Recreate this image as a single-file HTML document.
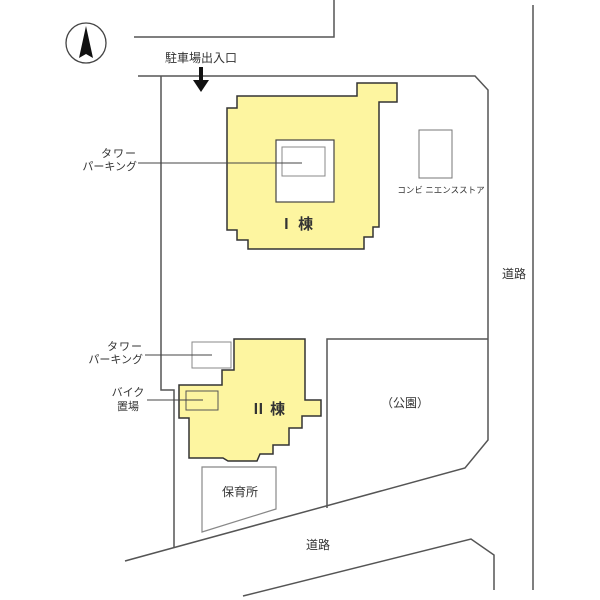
<!DOCTYPE html>
<html><head><meta charset="utf-8"><style>
html,body{margin:0;padding:0;background:#fff;width:600px;height:600px;overflow:hidden}
svg{display:block}
text{font-family:"Liberation Sans","Noto Sans CJK JP",sans-serif;fill:#333}
</style></head><body>
<svg width="600" height="600" viewBox="0 0 600 600">
<g fill="none" stroke="#555" stroke-width="1.5">
<!-- top road -->
<polyline points="134,37 334,37 334,0"/>
<!-- right far road -->
<line x1="533" y1="5" x2="533" y2="590"/>
<!-- site boundary -->
<polyline points="138,76 475,76 488,90 488,440 465,468 125,561"/>
<polyline points="161,76 161,390 174,390 174,547"/>
<!-- lower road -->
<polyline points="243,596 471,539 494,555 494,590"/>
<!-- park -->
<polyline points="327,508 327,339 488,339"/>
</g>
<!-- compass -->
<circle cx="86" cy="43" r="20" fill="#fff" stroke="#444" stroke-width="1.3"/>
<polygon points="86,26 79,58 86,54 93,58" fill="#111"/>
<text x="201" y="62" font-size="12" text-anchor="middle">駐車場出入口</text>
<!-- arrow -->
<rect x="199" y="67" width="4" height="14" fill="#111"/>
<polygon points="193,80 209,80 201,92" fill="#111"/>
<!-- Building I -->
<polygon points="357,83 397,83 397,102 379,102 379,227 373,227 373,237 364,237 364,249 248,249 248,240 237,240 237,230 227,230 227,108 237,108 237,96 357,96" fill="#fdf5a0" stroke="#333" stroke-width="1.5"/>
<rect x="276" y="140" width="58" height="62" fill="#fff" stroke="#444" stroke-width="1.2"/>
<rect x="282" y="147" width="43" height="29" fill="#fff" stroke="#888" stroke-width="1"/>
<line x1="138" y1="163" x2="302" y2="163" stroke="#444" stroke-width="1"/>
<text x="137" y="157" font-size="11" text-anchor="end" letter-spacing="1">タワー</text>
<text x="137" y="170" font-size="11" text-anchor="end">パーキング</text>
<text x="296" y="229" font-size="15" font-weight="bold" text-anchor="middle">Ⅰ 棟</text>
<!-- convenience store -->
<rect x="419" y="130" width="33" height="48" fill="#fff" stroke="#777" stroke-width="1"/>
<text x="441" y="193" font-size="8.5" text-anchor="middle">コンビ ニエンスストア</text>
<text x="514" y="278" font-size="12" text-anchor="middle">道路</text>
<!-- Building II -->
<rect x="192" y="342" width="39" height="26" fill="#fff" stroke="#888" stroke-width="1"/>
<polygon points="234,339 305,339 305,400 321,400 321,416 302,416 302,428 289,428 289,445 273,445 273,454 260,454 257,461 228,461 223,458 189,458 189,418 179,418 179,385 222,385 222,370 234,370" fill="#fdf5a0" stroke="#333" stroke-width="1.5"/>
<rect x="186" y="391" width="32" height="19" fill="none" stroke="#555" stroke-width="1"/>
<line x1="145" y1="355" x2="212" y2="355" stroke="#444" stroke-width="1"/>
<line x1="147" y1="400" x2="203" y2="400" stroke="#444" stroke-width="1"/>
<text x="143" y="350" font-size="11" text-anchor="end" letter-spacing="1">タワー</text>
<text x="143" y="363" font-size="11" text-anchor="end">パーキング</text>
<text x="128" y="396" font-size="11" text-anchor="middle">バイク</text>
<text x="128" y="410" font-size="11" text-anchor="middle">置場</text>
<text x="268" y="414" font-size="15" font-weight="bold" text-anchor="middle">Ⅱ 棟</text>
<!-- daycare -->
<polygon points="202,467 276,467 276,509 202,532" fill="#fff" stroke="#888" stroke-width="1.2"/>
<text x="240" y="496" font-size="12" text-anchor="middle">保育所</text>
<text x="405" y="407" font-size="12" text-anchor="middle">（公園）</text>
<text x="318" y="549" font-size="12" text-anchor="middle">道路</text>
</svg>
</body></html>
